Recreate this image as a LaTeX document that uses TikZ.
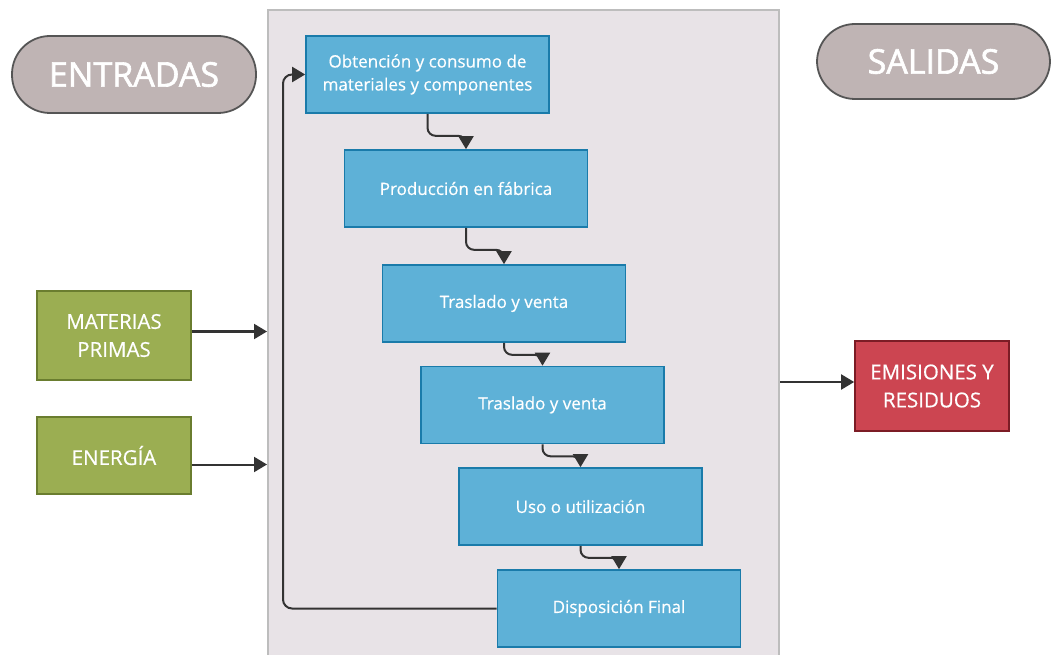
\documentclass[tikz,border=0pt]{standalone}
\usepackage{fontspec}
\setmainfont{Open Sans}
\newfontfamily\boxfont[FakeBold=0.5]{Open Sans}
\newfontfamily\headfont[FakeBold=1.8]{Open Sans}
\usetikzlibrary{arrows.meta}
\definecolor{panelfill}{HTML}{E8E3E7}
\definecolor{panelline}{HTML}{BDBDBD}
\definecolor{pillfill}{HTML}{BFB4B4}
\definecolor{pillline}{HTML}{555555}
\definecolor{stepfill}{HTML}{5EB1D7}
\definecolor{stepline}{HTML}{1A7BAA}
\definecolor{infill}{HTML}{9BAE52}
\definecolor{inline}{HTML}{6A7D2F}
\definecolor{outfill}{HTML}{CC4551}
\definecolor{outline}{HTML}{7C1C25}
\definecolor{wire}{HTML}{333333}
\tikzset{
  pill/.style={draw=pillline, line width=1.8pt, fill=pillfill, rounded corners=38pt,
    text=white, font=\headfont\fontsize{34}{40}\selectfont, inner sep=0pt},
  stepbox/.style={draw=stepline, line width=1.6pt, fill=stepfill, text=white,
    minimum width=243pt, minimum height=77pt, inner sep=0pt, align=center,
    font=\boxfont\fontsize{17}{23}\selectfont},
  inbox/.style={draw=inline, line width=1.6pt, fill=infill, text=white,
    minimum width=154pt, inner sep=0pt, align=center,
    font=\boxfont\fontsize{20.5}{28}\selectfont},
  outbox/.style={draw=outline, line width=1.6pt, fill=outfill, text=white,
    minimum width=154pt, minimum height=90pt, inner sep=0pt, align=center,
    font=\boxfont\fontsize{20.5}{28}\selectfont},
  flow/.style={draw=wire, line width=2pt, rounded corners=8pt,
    -{Triangle[width=15pt,length=13pt]}},
}
\begin{document}
\begin{tikzpicture}[x=1pt,y=-1pt]
\useasboundingbox (0,0) rectangle (1053,655);
\fill[white] (0,0) rectangle (1053,655);

% process panel
\node[draw=panelline, line width=2pt, fill=panelfill, minimum width=511pt,
  minimum height=680pt, inner sep=0pt] (proc) at (523.5,350) {};

% headings
\node[pill, minimum width=244pt, minimum height=77pt] (ent) at (134,74.5) {ENTRADAS};
\node[pill, minimum width=233pt, minimum height=75pt] (sal) at (933.5,61.5) {SALIDAS};

% life-cycle stages
\node[stepbox] (b1) at (427.5,74.5) {Obtención y consumo de\\materiales y componentes};
\node[stepbox] (b2) at (466,188.5) {Producción en fábrica};
\node[stepbox] (b3) at (504,303.5) {Traslado y venta};
\node[stepbox] (b4) at (542.5,405) {Traslado y venta};
\node[stepbox] (b5) at (580.5,506.5) {Uso o utilización};
\node[stepbox] (b6) at (619,608.5) {Disposición Final};

% inputs and outputs
\node[inbox, minimum height=89pt] (mp) at (114,335.5) {MATERIAS\\PRIMAS};
\node[inbox, minimum height=77pt] (en) at (114,455.5) {ENERGÍA};
\node[outbox] (er) at (932,386) {EMISIONES Y\\RESIDUOS};

% stage-to-stage connectors
\draw[flow] (b1.south) -- ++(0,22) -| (b2.north);
\draw[flow] (b2.south) -- ++(0,22) -| (b3.north);
\draw[flow] (b3.south) -- ++(0,12) -| (b4.north);
\draw[flow] (b4.south) -- ++(0,12) -| (b5.north);
\draw[flow] (b5.south) -- ++(0,12) -| (b6.north);

% return loop
\coordinate (loop) at (283,74.5);
\draw[flow, rounded corners=9pt] (b6.west) -| (loop) -- (b1.west);

% inputs into the panel, output from it
\draw[flow] ([yshift=4pt]mp.east) -- ([yshift=4pt]proc.west |- mp.east);
\draw[flow] ([yshift=-9pt]en.east) -- ([yshift=-9pt]proc.west |- en.east);
\draw[flow] ([yshift=4pt]proc.east |- er.west) -- ([yshift=4pt]er.west);
\end{tikzpicture}
\end{document}
